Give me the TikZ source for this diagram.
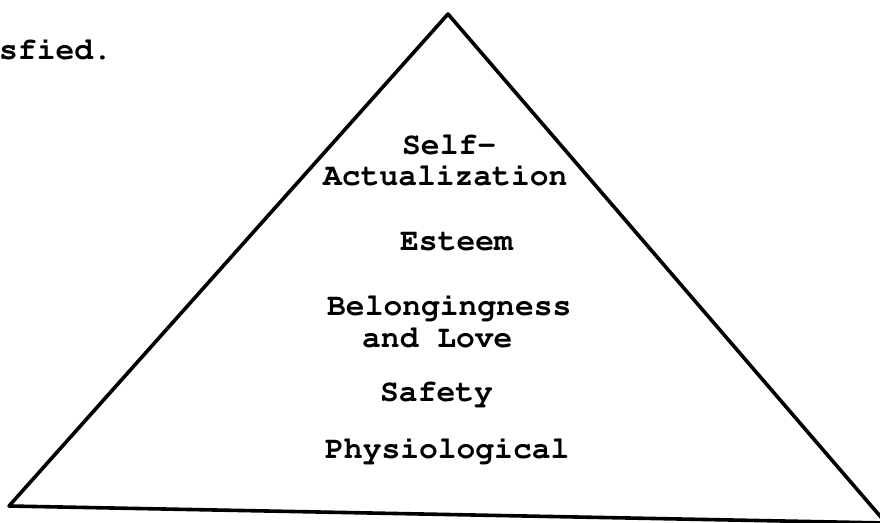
\documentclass[tikz,border=0pt]{standalone}
\usepackage[T1]{fontenc}
\newcommand{\typer}{\fontencoding{T1}\fontfamily{pcr}\fontseries{b}\selectfont}
\tikzset{
  level/.style={anchor=base west, inner sep=0pt, font=\typer\fontsize{31.3}{30}\selectfont},
  pyramid/.style={line width=3.6pt, line join=round}
}
\begin{document}
\begin{tikzpicture}[x=1pt, y=-1pt]
    \useasboundingbox (0,0) rectangle (880,522);

    % === text from the page above ===
    \node[level] (tail) at (-1,59) {sfied.};

    % === the pyramid ===
    \coordinate (apex) at (448,14);
    \coordinate (lft) at (9,506);
    \coordinate (rgt) at (886,523);
    \draw[pyramid] (apex) -- (rgt) -- (lft) -- cycle;

    % === levels, top to bottom ===
    \node[level] (self) at (402,154) {Self-};
    \node[level] (actual) at (323,185) {Actualization};
    \node[level] (esteem) at (400,250) {Esteem};
    \node[level] (belong) at (327,315) {Belongingness};
    \node[level] (love) at (362,347) {and Love};
    \node[level] (safety) at (380,401) {Safety};
    \node[level] (physio) at (325,458) {Physiological};
\end{tikzpicture}
\end{document}
